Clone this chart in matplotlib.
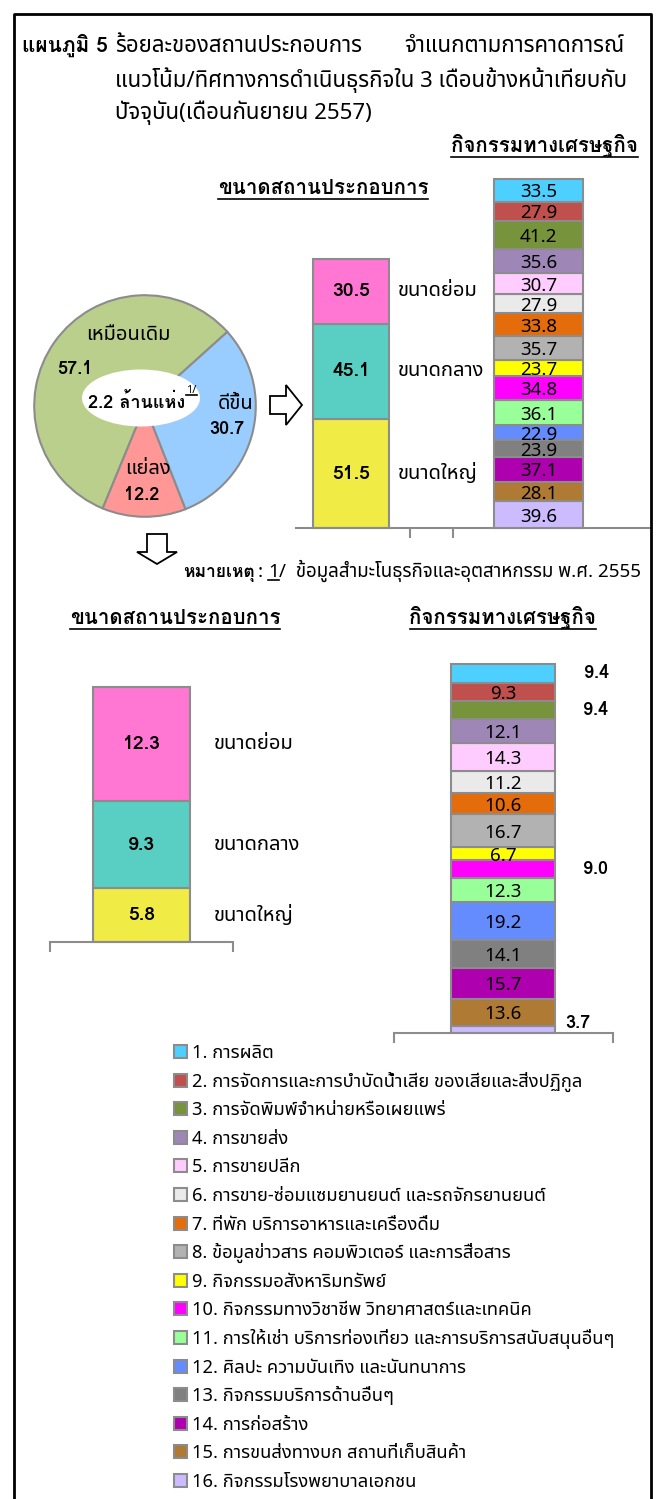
import matplotlib
matplotlib.use('Agg')
import matplotlib.pyplot as plt
import matplotlib.patches as mpatches
from matplotlib import font_manager
from matplotlib.ft2font import FT2Font

# ---- find families that have Thai glyphs (and which of them have a bold face) ----
thai_fams = []
bold_fams = []
for f in font_manager.fontManager.ttflist:
    try:
        if 0x0E01 not in FT2Font(f.fname).get_charmap():
            continue
    except Exception:
        continue
    if f.name not in thai_fams:
        thai_fams.append(f.name)
    w = f.weight
    if isinstance(w, str):
        w = font_manager.weight_dict.get(w, 400)
    if w >= 600 and f.name not in bold_fams:
        bold_fams.append(f.name)
prefer = ['Noto Sans Thai', 'Noto Sans Thai UI', 'Tahoma', 'Leelawadee UI', 'Loma', 'Garuda']
rank = lambda n: prefer.index(n) if n in prefer else len(prefer)
thai_fams.sort(key=rank)
bold_fams.sort(key=rank)
plt.rcParams['font.family'] = thai_fams + ['DejaVu Sans']
BOLD = dict(family=(bold_fams or thai_fams) + ['DejaVu Sans'], fontweight='bold')

W, H = 663, 1499

# ---- data ----
pie_labels = ['เหมือนเดิม', 'แย่ลง', 'ดีขึ้น']
pie_values = [57.1, 12.2, 30.7]
pie_colors = ['#B9CF8B', '#FF9797', '#99CCFF']

size_labels = ['ขนาดใหญ่', 'ขนาดกลาง', 'ขนาดย่อม']   # bottom to top
size_better = [51.5, 45.1, 30.5]
size_worse = [5.8, 9.3, 12.3]
size_colors = ['#F0EB45', '#58CFC2', '#FF77D3']

activities = ['1. การผลิต',
              '2. การจัดการและการบำบัดน้ำเสีย ของเสียและสิ่งปฏิกูล',
              '3. การจัดพิมพ์จำหน่ายหรือเผยแพร่',
              '4. การขายส่ง',
              '5. การขายปลีก',
              '6. การขาย-ซ่อมแซมยานยนต์ และรถจักรยานยนต์',
              '7. ที่พัก บริการอาหารและเครื่องดื่ม',
              '8. ข้อมูลข่าวสาร คอมพิวเตอร์ และการสื่อสาร',
              '9. กิจกรรมอสังหาริมทรัพย์',
              '10. กิจกรรมทางวิชาชีพ วิทยาศาสตร์และเทคนิค',
              '11. การให้เช่า บริการท่องเที่ยว และการบริการสนับสนุนอื่นๆ',
              '12. ศิลปะ ความบันเทิง และนันทนาการ',
              '13. กิจกรรมบริการด้านอื่นๆ',
              '14. การก่อสร้าง',
              '15. การขนส่งทางบก สถานที่เก็บสินค้า',
              '16. กิจกรรมโรงพยาบาลเอกชน']
act_better = [33.5, 27.9, 41.2, 35.6, 30.7, 27.9, 33.8, 35.7,
              23.7, 34.8, 36.1, 22.9, 23.9, 37.1, 28.1, 39.6]
act_worse = [9.4, 9.3, 9.4, 12.1, 14.3, 11.2, 10.6, 16.7,
             6.7, 9.0, 12.3, 19.2, 14.1, 15.7, 13.6, 3.7]
act_colors = ['#4DCFFF', '#C0504D', '#77933C', '#9E87B7', '#FFCCFF', '#EAEAEA',
              '#E46C0A', '#B2B2B2', '#FFFF00', '#FF00FF', '#99FF99', '#648CFF',
              '#808080', '#AE00AE', '#AF7A33', '#CCBBFF']

title_bold = 'แผนภูมิ 5'
title_1a = 'ร้อยละของสถานประกอบการ'
title_1b = 'จำแนกตามการคาดการณ์'
title_2 = 'แนวโน้ม/ทิศทางการดำเนินธุรกิจใน 3 เดือนข้างหน้าเทียบกับ'
title_3 = 'ปัจจุบัน(เดือนกันยายน 2557)'
head_size = 'ขนาดสถานประกอบการ'
head_act = 'กิจกรรมทางเศรษฐกิจ'
pie_center = '2.2 ล้านแห่ง'
note_bold = 'หมายเหตุ'
note_text = 'ข้อมูลสำมะโนธุรกิจและอุตสาหกรรม พ.ศ. 2555'

EDGE = '#8C8C8C'

fig = plt.figure(figsize=(W / 100, H / 100), dpi=100)
fig.patch.set_facecolor('white')


def box(x0, y0, x1, y1):
    return fig.add_axes([x0 / W, 1 - y1 / H, (x1 - x0) / W, (y1 - y0) / H])


# overlay in pixel units for text and decorations
ov = fig.add_axes([0, 0, 1, 1])
ov.set_xlim(0, W)
ov.set_ylim(H, 0)
ov.axis('off')
ov.set_zorder(10)
rend = fig.canvas.get_renderer()
inv = ov.transData.inverted()


def right_edge(t):
    bb = t.get_window_extent(renderer=rend)
    return inv.transform((bb.x1, bb.y0))[0]


def underline(t, y):
    bb = t.get_window_extent(renderer=rend)
    xa = inv.transform((bb.x0, 0))[0]
    xb = inv.transform((bb.x1, 0))[0]
    ov.plot([xa, xb], [y, y], color='black', lw=1.2)


# border
ov.plot([14, 14, 651, 651], [H + 5, 14, 14, H + 5], color='black', lw=2, clip_on=False)

# title
TS = 16
ov.text(22, 52, title_bold, fontsize=15, va='baseline', **BOLD)
ov.text(115, 52, title_1a, fontsize=TS, va='baseline')
ov.text(624, 52, title_1b, fontsize=TS, va='baseline', ha='right')
ov.text(115, 87, title_2, fontsize=TS, va='baseline')
ov.text(115, 119, title_3, fontsize=TS, va='baseline')

HS = 14.7
t = ov.text(638, 152, head_act, fontsize=HS, va='baseline', ha='right', **BOLD)
underline(t, 157)
t = ov.text(323, 194, head_size, fontsize=HS, va='baseline', ha='center', **BOLD)
underline(t, 199)

# ---- pie ----
axp = box(32, 293, 258, 519)
axp.pie(pie_values, colors=pie_colors, startangle=42, counterclock=True,
        wedgeprops=dict(edgecolor=EDGE, linewidth=1.5))
axp.set_xlim(-1.02, 1.02)
axp.set_ylim(-1.02, 1.02)
axp.set_aspect('equal')

PS = 14.5
PN = 13
ov.add_patch(mpatches.Ellipse((141, 398), 118, 57, facecolor='white', edgecolor='none'))
t = ov.text(88, 408, pie_center, fontsize=13, ha='left', va='baseline', **BOLD)
t = ov.text(right_edge(t) + 1, 393, '1/', fontsize=8, ha='left', va='baseline')
underline(t, 395)
ov.text(128, 340, pie_labels[0], fontsize=PS, ha='center', va='baseline')
ov.text(75, 374, '%.1f' % pie_values[0], fontsize=PN, ha='center', va='baseline', **BOLD)
ov.text(236, 409, pie_labels[2], fontsize=PS, ha='center', va='baseline')
ov.text(227, 434, '%.1f' % pie_values[2], fontsize=PN, ha='center', va='baseline', **BOLD)
ov.text(148, 474, pie_labels[1], fontsize=PS, ha='center', va='baseline')
ov.text(142, 500, '%.1f' % pie_values[1], fontsize=PN, ha='center', va='baseline', **BOLD)

# arrows
ov.add_patch(mpatches.FancyArrow(270, 405, 32, 0, width=18, head_width=40, head_length=16,
                                 length_includes_head=True, facecolor='white',
                                 edgecolor='black', lw=1.3))
ov.add_patch(mpatches.FancyArrow(157, 534, 0, 30, width=20, head_width=40, head_length=12,
                                 length_includes_head=True, facecolor='white',
                                 edgecolor='black', lw=1.3))


def style_axis(ax, ticks):
    for s in ['top', 'left', 'right']:
        ax.spines[s].set_visible(False)
    ax.spines['bottom'].set_color(EDGE)
    ax.spines['bottom'].set_linewidth(1.5)
    ax.set_yticks([])
    ax.set_xticks(ticks)
    ax.set_xticklabels([])
    ax.tick_params(axis='x', direction='out', length=7, width=1.5, color=EDGE)
    ax.patch.set_alpha(0)


def stacked(ax, xc, width, vals, colors):
    bottom = 0
    mids = []
    for v, c in zip(vals, colors):
        ax.bar(xc, v, width=width, bottom=bottom, color=c, edgecolor=EDGE,
               linewidth=1.5, clip_on=False)
        mids.append(bottom + v / 2)
        bottom += v
    return mids


NS = 14
LS = 14.5

# ---- top size bar (better) ----
axs = box(296, 259, 651, 528)
axs.set_xlim(0, 355)
axs.set_ylim(0, sum(size_better))
style_axis(axs, [114, 157])
mids = stacked(axs, 55, 76, size_better, size_colors)
for m, v, lab in zip(mids, size_better, size_labels):
    axs.text(55, m, '%.1f' % v, fontsize=NS, ha='center', va='center', **BOLD)
    axs.text(102, m, lab, fontsize=LS, ha='left', va='center')

# ---- top activity bar (better) ----
axa = box(494, 179, 583, 528)
axa.set_xlim(0, 89)
axa.set_ylim(0, sum(act_better))
axa.axis('off')
mids = stacked(axa, 44.5, 89, act_better[::-1], act_colors[::-1])
for m, v in zip(mids, act_better[::-1]):
    axa.text(44.5, m - 3, '%.1f' % v, fontsize=13.5, ha='center', va='center')

# footnote
FS = 13.5
t = ov.text(183, 577, note_bold, fontsize=12.5, va='baseline', **BOLD)
t = ov.text(right_edge(t) + 3, 577, ':', fontsize=FS, va='baseline')
t = ov.text(right_edge(t) + 5, 577, '1', fontsize=FS, va='baseline')
underline(t, 580)
ov.text(right_edge(t), 577, '/  ' + note_text, fontsize=FS, va='baseline')

# bottom headings
t = ov.text(175, 624, head_size, fontsize=HS, va='baseline', ha='center', **BOLD)
underline(t, 629)
t = ov.text(503, 624, head_act, fontsize=HS, va='baseline', ha='center', **BOLD)
underline(t, 629)

# ---- bottom size bar (worse) ----
axw = box(50, 687, 233, 942)
axw.set_xlim(0, 183)
axw.set_ylim(0, sum(size_worse))
style_axis(axw, [0, 183])
mids = stacked(axw, 91.5, 97, size_worse, size_colors)
for m, v, lab in zip(mids, size_worse, size_labels):
    axw.text(91.5, m, '%.1f' % v, fontsize=NS, ha='center', va='center', **BOLD)
    axw.text(164, m, lab, fontsize=LS, ha='left', va='center')

# ---- bottom activity bar (worse) ----
axb = box(394, 664, 613, 1033)
axb.set_xlim(0, 219)
axb.set_ylim(0, sum(act_worse))
style_axis(axb, [0, 219])
mids = stacked(axb, 109, 104, act_worse[::-1], act_colors[::-1])
mids = mids[::-1]
outside = {0: 203, 2: 202, 9: 202, 15: 184}
for i, (m, v) in enumerate(zip(mids, act_worse)):
    if i in outside:
        axb.text(outside[i], m + 3 if i == 15 else m, '%.1f' % v, fontsize=13,
                 ha='center', va='center', clip_on=False, **BOLD)
    else:
        axb.text(109, m - 1, '%.1f' % v, fontsize=13.5, ha='center', va='center')

# ---- legend ----
for i, (lab, c) in enumerate(zip(activities, act_colors)):
    y = 1052 + i * 28.6
    ov.add_patch(mpatches.Rectangle((174, y - 7), 13, 13, facecolor=c, edgecolor=EDGE, lw=1.5))
    ov.text(192, y + 6, lab, fontsize=13.2, va='baseline')

fig.savefig('out.png', dpi=100, facecolor='white')
